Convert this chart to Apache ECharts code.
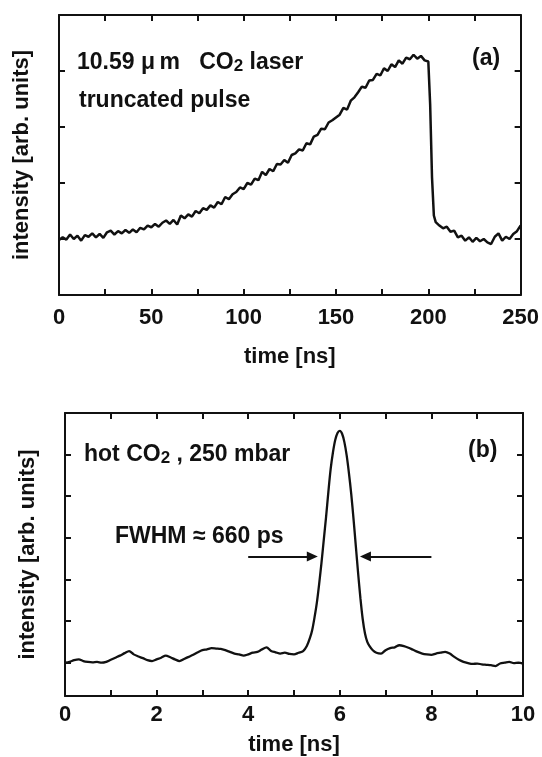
<!DOCTYPE html>
<html>
<head>
<meta charset="utf-8">
<script src="https://cdn.jsdelivr.net/npm/echarts@6/dist/echarts.min.js"></script>
<style>
  html, body { margin: 0; padding: 0; background: #fff; }
  #chart { width: 542px; height: 757px; }
</style>
</head>
<body>
<div id="chart"></div>
<script>
// ---------- Panel (a): truncated CO2 laser pulse ----------
const topTime = [
  0,2,4,6,8,10,12,14,16,18,
  20,22,24,26,28,30,32,34,36,38,
  40,42,44,46,48,50,52,54,56,58,
  60,62,64,66,68,70,72,74,76,78,
  80,82,84,86,88,90,92,94,96,98,
  100,102,104,106,108,110,112,114,116,118,
  120,122,124,126,128,130,132,134,136,138,
  140,142,144,146,148,150,152,154,156,158,
  160,162,164,166,168,170,172,174,176,178,
  180,182,184,186,188,190,192,194,196,198,
  200,201,202,203,
  204,206,208,210,212,214,216,218,220,222,
  224,226,228,230,232,234,236,238,240,242,
  244,246,248,250
];
const topIntensity = [
  0.98,1.03,0.99,1.08,1.00,1.06,0.97,1.07,1.04,1.10,
  1.03,1.09,1.02,1.12,1.15,1.08,1.14,1.10,1.16,1.11,
  1.17,1.12,1.20,1.17,1.24,1.21,1.27,1.22,1.29,1.33,
  1.27,1.34,1.26,1.42,1.37,1.44,1.40,1.50,1.46,1.55,
  1.52,1.60,1.56,1.66,1.62,1.75,1.71,1.80,1.84,1.92,
  1.89,2.00,1.97,2.08,2.05,2.20,2.14,2.25,2.21,2.34,
  2.33,2.41,2.36,2.50,2.53,2.60,2.58,2.71,2.69,2.83,
  2.86,2.97,2.96,3.08,3.12,3.17,3.22,3.34,3.31,3.47,
  3.53,3.62,3.72,3.70,3.83,3.84,3.95,3.92,4.05,4.00,
  4.12,4.07,4.19,4.13,4.24,4.21,4.29,4.22,4.27,4.19,
  4.17,3.40,2.10,1.42,
  1.30,1.24,1.19,1.22,1.13,1.15,1.03,1.06,0.97,1.03,
  0.95,1.02,0.96,1.00,0.94,0.91,1.04,1.10,0.97,1.04,
  1.00,1.09,1.14,1.24
];
const topXTicks = [0, 50, 100, 150, 200, 250];

// ---------- Panel (b): hot CO2 amplified pulse ----------
const bottomTime = [
  0.0,0.1,0.2,0.3,0.4,0.5,0.6,0.7,0.8,0.9,
  1.0,1.1,1.2,1.3,1.4,1.5,1.6,1.7,1.8,1.9,
  2.0,2.1,2.2,2.3,2.4,2.5,2.6,2.7,2.8,2.9,
  3.0,3.1,3.2,3.3,3.4,3.5,3.6,3.7,3.8,3.9,
  4.0,4.1,4.2,4.3,4.4,4.5,4.6,4.7,4.8,4.9,
  5.0,5.1,5.2,5.28,5.35,5.40,5.45,5.50,5.55,5.60,
  5.65,5.70,5.75,5.80,5.85,5.90,5.95,6.00,6.05,6.10,
  6.15,6.20,6.25,6.30,6.35,6.40,6.45,6.50,6.55,6.60,
  6.65,6.72,6.8,6.9,7.0,7.1,7.2,7.3,7.4,7.5,
  7.6,7.7,7.8,7.9,8.0,8.1,8.2,8.3,8.4,8.5,
  8.6,8.7,8.8,8.9,9.0,9.1,9.2,9.3,9.4,9.5,
  9.6,9.7,9.8,9.9,10.0
];
const bottomIntensity = [
  0.00,0.02,0.06,0.08,0.04,0.02,0.01,0.02,0.00,0.02,
  0.07,0.12,0.17,0.23,0.28,0.20,0.15,0.11,0.06,0.04,
  0.08,0.12,0.17,0.13,0.08,0.04,0.09,0.14,0.19,0.25,
  0.30,0.32,0.35,0.34,0.33,0.30,0.26,0.22,0.20,0.17,
  0.20,0.24,0.26,0.32,0.37,0.28,0.25,0.22,0.24,0.21,
  0.20,0.24,0.28,0.40,0.60,0.80,1.10,1.45,1.90,2.40,
  2.95,3.50,4.10,4.65,5.05,5.35,5.52,5.57,5.50,5.30,
  4.98,4.55,4.05,3.45,2.80,2.15,1.55,1.05,0.70,0.50,
  0.40,0.30,0.24,0.22,0.30,0.35,0.37,0.42,0.40,0.36,
  0.31,0.26,0.22,0.20,0.19,0.22,0.24,0.26,0.22,0.14,
  0.07,0.02,-0.01,-0.03,-0.02,-0.04,-0.05,-0.06,-0.08,-0.02,
  0.00,0.02,-0.01,0.00,-0.02
];
const bottomXTicks = [0, 2, 4, 6, 8, 10];
// FWHM arrows (time, level)
const fwhmLeftArrow = [[4.0, 2.55], [5.40, 2.55]];
const fwhmRightArrow = [[8.0, 2.55], [6.56, 2.55]];

const FONT = 'Liberation Sans, Arial, Helvetica, sans-serif';
const INK = '#111';

function zip(xs, ys) { return xs.map((x, i) => [x, ys[i]]); }

const lineAxis = { onZero: false, lineStyle: { color: INK, width: 2 } };
const tickIn = { inside: true, length: 6, lineStyle: { color: INK, width: 2 } };
const tickLabel = (ticks, margin) => ({
  show: true, margin: margin, color: INK, fontFamily: FONT, fontWeight: 'bold', fontSize: 22,
  showMinLabel: true, showMaxLabel: true,
  formatter: v => (ticks.indexOf(v) >= 0 ? String(v) : '')
});
const nameStyle = { color: INK, fontFamily: FONT, fontWeight: 'bold', fontSize: 22 };

const chart = echarts.init(document.getElementById('chart'), null, { renderer: 'canvas' });

const option = {
  animation: false,
  backgroundColor: '#fff',
  grid: [
    { left: 59, top: 15, width: 465, height: 280 },
    { left: 65, top: 413, width: 458, height: 284 }
  ],
  xAxis: [
    { gridIndex: 0, type: 'value', position: 'bottom', min: 0, max: 250, interval: 25,
      axisLine: lineAxis, axisTick: tickIn, splitLine: { show: false },
      axisLabel: tickLabel(topXTicks, 12),
      name: 'time [ns]', nameLocation: 'middle', nameGap: 51, nameTextStyle: nameStyle },
    { gridIndex: 0, type: 'value', position: 'top', min: 0, max: 250, interval: 25,
      axisLine: lineAxis, axisTick: tickIn, splitLine: { show: false }, axisLabel: { show: false } },
    { gridIndex: 1, type: 'value', position: 'bottom', min: 0, max: 10, interval: 1,
      axisLine: lineAxis, axisTick: tickIn, splitLine: { show: false },
      axisLabel: tickLabel(bottomXTicks, 8),
      name: 'time [ns]', nameLocation: 'middle', nameGap: 38, nameTextStyle: nameStyle },
    { gridIndex: 1, type: 'value', position: 'top', min: 0, max: 10, interval: 1,
      axisLine: lineAxis, axisTick: tickIn, splitLine: { show: false }, axisLabel: { show: false } }
  ],
  yAxis: [
    { gridIndex: 0, type: 'value', position: 'left', min: 0, max: 5, interval: 1,
      axisLine: lineAxis, axisTick: tickIn, splitLine: { show: false }, axisLabel: { show: false },
      name: 'intensity [arb. units]', nameLocation: 'middle', nameRotate: 90, nameGap: 26,
      nameTextStyle: nameStyle },
    { gridIndex: 0, type: 'value', position: 'right', min: 0, max: 5, interval: 1,
      axisLine: lineAxis, axisTick: tickIn, splitLine: { show: false }, axisLabel: { show: false } },
    { gridIndex: 1, type: 'value', position: 'left', min: -0.8, max: 6,
      axisLine: lineAxis, axisTick: Object.assign({ customValues: [0, 1, 2, 3, 4, 5] }, tickIn),
      splitLine: { show: false }, axisLabel: { show: false },
      name: 'intensity [arb. units]', nameLocation: 'middle', nameRotate: 90, nameGap: 26,
      nameTextStyle: nameStyle },
    { gridIndex: 1, type: 'value', position: 'right', min: -0.8, max: 6,
      axisLine: lineAxis, axisTick: Object.assign({ customValues: [0, 1, 2, 3, 4, 5] }, tickIn),
      splitLine: { show: false }, axisLabel: { show: false } }
  ],
  series: [
    { type: 'line', xAxisIndex: 0, yAxisIndex: 0, data: zip(topTime, topIntensity),
      showSymbol: false, silent: true, lineStyle: { color: INK, width: 2.5 } },
    { type: 'line', xAxisIndex: 2, yAxisIndex: 2, data: zip(bottomTime, bottomIntensity),
      showSymbol: false, silent: true, smooth: 0.3, lineStyle: { color: INK, width: 2.3 },
      markLine: {
        silent: true, symbol: ['none', 'triangle'], symbolSize: [10, 11],
        label: { show: false }, lineStyle: { color: INK, width: 2, type: 'solid' },
        emphasis: { disabled: true },
        data: [
          [{ coord: fwhmLeftArrow[0] }, { coord: fwhmLeftArrow[1] }],
          [{ coord: fwhmRightArrow[0] }, { coord: fwhmRightArrow[1] }]
        ]
      } }
  ],
  graphic: [
    { type: 'text', x: 77, y: 63, silent: true,
      style: { text: '10.59 μ\u2009m   CO{sub|2} laser', fill: INK, font: 'bold 23px ' + FONT,
               verticalAlign: 'middle',
               rich: { sub: { fontSize: 17, fontWeight: 'bold', fontFamily: FONT, fill: INK, verticalAlign: 'bottom', lineHeight: 17 } } } },
    { type: 'text', x: 79, y: 101, silent: true,
      style: { text: 'truncated pulse', fill: INK, font: 'bold 23px ' + FONT, verticalAlign: 'middle' } },
    { type: 'text', x: 472, y: 59, silent: true,
      style: { text: '(a)', fill: INK, font: 'bold 23px ' + FONT, verticalAlign: 'middle' } },
    { type: 'text', x: 84, y: 455, silent: true,
      style: { text: 'hot CO{sub|2} , 250 mbar', fill: INK, font: 'bold 23px ' + FONT,
               verticalAlign: 'middle',
               rich: { sub: { fontSize: 17, fontWeight: 'bold', fontFamily: FONT, fill: INK, verticalAlign: 'bottom', lineHeight: 17 } } } },
    { type: 'text', x: 115, y: 537, silent: true,
      style: { text: 'FWHM ≈ 660 ps', fill: INK, font: 'bold 23px ' + FONT, verticalAlign: 'middle' } },
    { type: 'text', x: 468, y: 451, silent: true,
      style: { text: '(b)', fill: INK, font: 'bold 23px ' + FONT, verticalAlign: 'middle' } }
  ]
};
chart.setOption(option);
</script>
</body>
</html>
